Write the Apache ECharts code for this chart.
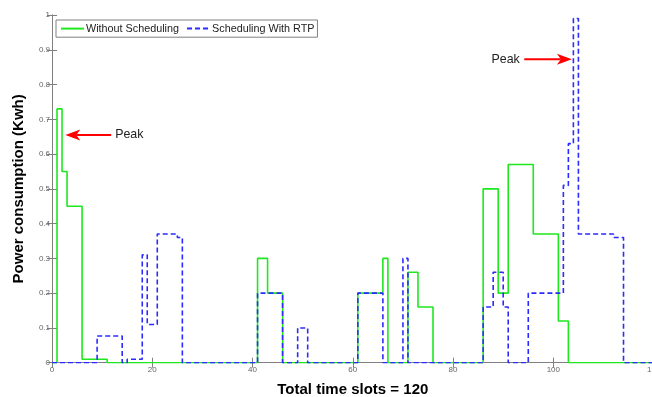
<!DOCTYPE html>
<html>
<head>
<meta charset="utf-8">
<script src="https://cdn.jsdelivr.net/npm/echarts@6/dist/echarts.min.js"></script>
<style>html,body{margin:0;padding:0;background:#fff;}#c{width:652px;height:397px;}</style>
</head>
<body>
<div id="c"></div>
<script>
// ---- data (one value per time slot, held until the next slot) ----
const seriesNames = ['Without Scheduling', 'Scheduling With RTP'];
const withoutScheduling = [
  0, 0.73, 0.55, 0.45, 0.45, 0.45, 0.01, 0.01, 0.01, 0.01,
  0.01, 0, 0, 0, 0, 0, 0, 0, 0, 0,
  0, 0, 0, 0, 0, 0, 0, 0, 0, 0,
  0, 0, 0, 0, 0, 0, 0, 0, 0, 0,
  0, 0.3, 0.3, 0.2, 0.2, 0.2, 0, 0, 0, 0,
  0, 0, 0, 0, 0, 0, 0, 0, 0, 0,
  0, 0.2, 0.2, 0.2, 0.2, 0.2, 0.3, 0, 0, 0,
  0, 0.26, 0.26, 0.16, 0.16, 0.16, 0, 0, 0, 0,
  0, 0, 0, 0, 0, 0, 0.5, 0.5, 0.5, 0.2,
  0.2, 0.57, 0.57, 0.57, 0.57, 0.57, 0.37, 0.37, 0.37, 0.37,
  0.37, 0.12, 0.12, 0, 0, 0, 0, 0, 0, 0,
  0, 0, 0, 0, 0, 0, 0, 0, 0, 0
];
const withRTP = [
  0, 0, 0, 0, 0, 0, 0, 0, 0, 0.077,
  0.077, 0.077, 0.077, 0.077, 0, 0.01, 0.01, 0.01, 0.31, 0.11,
  0.11, 0.37, 0.37, 0.37, 0.37, 0.36, 0, 0, 0, 0,
  0, 0, 0, 0, 0, 0, 0, 0, 0, 0,
  0, 0.2, 0.2, 0.2, 0.2, 0.2, 0, 0, 0, 0.1,
  0.1, 0, 0, 0, 0, 0, 0, 0, 0, 0,
  0, 0.2, 0.2, 0.2, 0.2, 0.2, 0, 0, 0, 0,
  0.3, 0, 0, 0, 0, 0, 0, 0, 0, 0,
  0, 0, 0, 0, 0, 0, 0.16, 0.16, 0.26, 0.26,
  0.16, 0, 0, 0, 0, 0.2, 0.2, 0.2, 0.2, 0.2,
  0.2, 0.2, 0.51, 0.63, 0.99, 0.37, 0.37, 0.37, 0.37, 0.37,
  0.37, 0.37, 0.36, 0.36, 0, 0, 0, 0, 0, 0
];
const xTicks = [0, 20, 40, 60, 80, 100, 120];
const yTicks = [0, 0.1, 0.2, 0.3, 0.4, 0.5, 0.6, 0.7, 0.8, 0.9, 1];
// annotation anchor points in data units
const peakNotes = [
  { text: 'Peak', tail: 11.8, tip: 2.65, value: 0.655 },
  { text: 'Peak', tail: 94.2, tip: 103.7, value: 0.873 }
];

function toStairs(vals) {
  const out = vals.map((v, i) => [i, v]);
  out.push([vals.length, vals[vals.length - 1]]);
  return out;
}

const FONT = "'Liberation Sans', Arial, sans-serif";
const AXC = '#808080';
const chart = echarts.init(document.getElementById('c'), null, { renderer: 'canvas' });

const axisCommon = {
  axisLine: { show: true, lineStyle: { color: AXC, width: 1 } },
  axisTick: { show: true, inside: true, length: 5, lineStyle: { color: AXC } },
  splitLine: { show: false }
};

chart.setOption({
  animation: false,
  backgroundColor: '#fff',
  grid: { left: 52, top: 15, width: 601.6, bottom: 34.3, containLabel: false, outerBoundsMode: 'none' },
  legend: {
    left: 56, top: 20,
    orient: 'horizontal',
    padding: [3, 3, 3, 4],
    itemGap: 7,
    itemWidth: 23, itemHeight: 14,
    borderColor: AXC, borderWidth: 1, backgroundColor: '#fff',
    itemStyle: { opacity: 0 },
    textStyle: { fontFamily: FONT, fontSize: 10.8, color: '#222', padding: [0, 0, 0, -3] },
    data: seriesNames
  },
  xAxis: [
    Object.assign({}, axisCommon, {
      type: 'value', min: xTicks[0], max: xTicks[xTicks.length - 1], interval: 20,
      name: 'Total time slots = 120', nameLocation: 'middle', nameGap: 20,
      nameTextStyle: { fontFamily: FONT, fontSize: 15, fontWeight: 'bold', color: '#000' },
      axisLabel: { fontFamily: FONT, fontSize: 8, color: '#666', margin: 3 }
    }),
    Object.assign({}, axisCommon, {
      type: 'value', position: 'top', min: xTicks[0], max: xTicks[xTicks.length - 1], interval: 20,
      axisLabel: { show: false }
    })
  ],
  yAxis: [
    Object.assign({}, axisCommon, {
      type: 'value', min: yTicks[0], max: yTicks[yTicks.length - 1], interval: 0.1,
      name: 'Power consumption (Kwh)', nameLocation: 'middle', nameGap: 26,
      nameTextStyle: { fontFamily: FONT, fontSize: 15, fontWeight: 'bold', color: '#000' },
      axisLabel: { fontFamily: FONT, fontSize: 8, color: '#666', margin: 2,
        formatter: v => String(Math.round(v * 10) / 10) }
    }),
    Object.assign({}, axisCommon, {
      type: 'value', position: 'right', min: yTicks[0], max: yTicks[yTicks.length - 1], interval: 0.1,
      axisLabel: { show: false }
    })
  ],
  series: [
    {
      name: seriesNames[0], type: 'line', step: 'end', symbol: 'none',
      xAxisIndex: 0, yAxisIndex: 0,
      lineStyle: { color: '#1ee81e', width: 1.6 },
      itemStyle: { color: '#1ee81e' },
      data: toStairs(withoutScheduling)
    },
    {
      name: seriesNames[1], type: 'line', step: 'end', symbol: 'none',
      xAxisIndex: 0, yAxisIndex: 0,
      lineStyle: { color: '#2b2bff', width: 1.6, type: [5, 3] },
      itemStyle: { color: '#2b2bff' },
      data: toStairs(withRTP)
    }
  ]
});

// Peak annotations (arrows + text), positioned through the axes
const gfx = [];
peakNotes.forEach(n => {
  const tail = chart.convertToPixel({ gridIndex: 0 }, [n.tail, n.value]);
  const tip = chart.convertToPixel({ gridIndex: 0 }, [n.tip, n.value]);
  const dir = tip[0] > tail[0] ? 1 : -1;
  const headLen = 15, headHalf = 5.5, notch = 4;
  const backX = tip[0] - dir * headLen;
  gfx.push({
    type: 'line', shape: { x1: tail[0], y1: tail[1], x2: backX + dir * notch, y2: tip[1] },
    style: { stroke: '#ff0000', lineWidth: 2 }
  });
  gfx.push({
    type: 'polygon',
    shape: { points: [[tip[0], tip[1]], [backX, tip[1] - headHalf], [backX + dir * notch, tip[1]], [backX, tip[1] + headHalf]] },
    style: { fill: '#ff0000' }
  });
  gfx.push({
    type: 'text',
    x: dir < 0 ? tail[0] + 4 : tail[0] - 4.5,
    y: tail[1],
    style: { text: n.text, fontFamily: FONT, fontSize: 12.4, fill: '#222',
      align: dir < 0 ? 'left' : 'right', verticalAlign: 'middle' }
  });
});
chart.setOption({ graphic: gfx });
</script>
</body>
</html>
